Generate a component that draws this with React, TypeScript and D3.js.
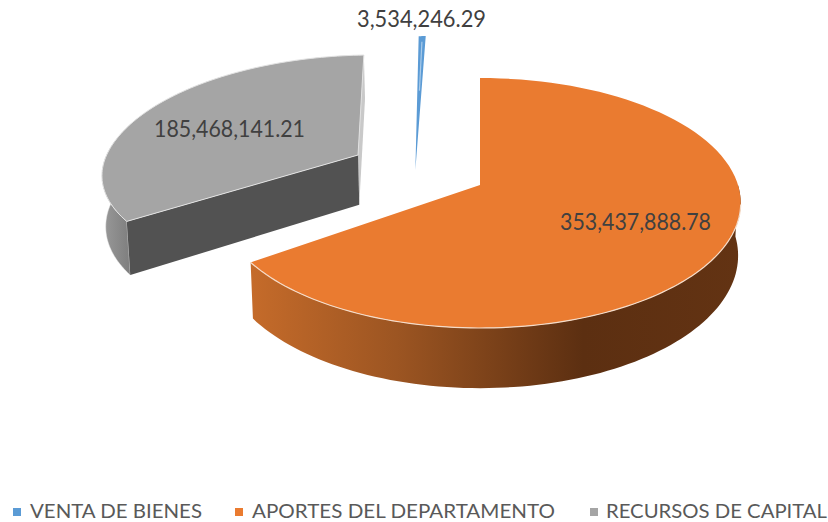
import React from "react";
import * as d3 from "d3";

const categories = ["VENTA DE BIENES", "APORTES DEL DEPARTAMENTO", "RECURSOS DE CAPITAL"];
const seriesValues = [3534246.29, 353437888.78, 185468141.21];
const valueLabels = ["3,534,246.29", "353,437,888.78", "185,468,141.21"];
const colors = ["#5b9bd5", "#ea7b30", "#a5a5a5"];

// Projection of the tilted pie
const CX = 480, CY = 185, RX = 258, RY = 122.4, K = 0.144, DEPTH = 51.5, SHRINK = 0.99;
const W = 828, H = 522;
const TAU = Math.PI * 2;

type Geo = { u: number; v: number; r: number; wide: number; front: number };
const geometry: Geo[] = [
  { u: -0.255, v: 0.125, r: 1.35, wide: 0.6, front: 1 },
  { u: 0, v: 0, r: 1, wide: 1, front: 1 },
  { u: -0.49, v: 0.254, r: 1, wide: 1.01, front: 0.93 },
];

const labelBoxes = [
  { x: 357, w: 129, y: 27 },
  { x: 560, w: 151, y: 230 },
  { x: 154, w: 151, y: 137 },
];
const legendBoxes = [
  { mx: 13, tx: 30, tw: 172 },
  { mx: 235, tx: 252, tw: 303 },
  { mx: 590, tx: 606, tw: 221 },
];

function project(geo: Geo, theta: number, radius: number, bottom = false): [number, number] {
  const c = Math.cos(theta);
  const U = geo.u + Math.sin(theta) * radius * geo.r * geo.wide;
  const V = geo.v + c * radius * geo.r * (c < 0 ? geo.front : 1);
  const s = 1 / (1 + K * V);
  const x = RX * U * s;
  const y = -RY * V * s;
  if (!bottom) return [CX + x, CY + y];
  return [CX + x * SHRINK, CY + y + DEPTH * s];
}

const lineGen = d3.line<[number, number]>().curve(d3.curveLinear);

function arcPts(geo: Geo, a0: number, a1: number, bottom = false) {
  const n = 90;
  return d3.range(n + 1).map((i) => project(geo, a0 + ((a1 - a0) * i) / n, 1, bottom));
}

export default function App() {
  const total = d3.sum(seriesValues);
  const start = (-TAU * seriesValues[0]) / total;
  const arcs = d3
    .pie<number>()
    .sort(null)
    .startAngle(start)
    .endAngle(start + TAU)(seriesValues);

  const [blue, orange, gray] = arcs;
  const topFace = (i: number) => {
    const a = arcs[i];
    const g = geometry[i];
    return lineGen([project(g, 0, 0), ...arcPts(g, a.startAngle, a.endAngle)]) + "Z";
  };
  const outerWall = (g: Geo, a0: number, a1: number) =>
    lineGen([...arcPts(g, a0, a1), ...arcPts(g, a0, a1, true).reverse()]) + "Z";
  const cutFace = (g: Geo, a: number) =>
    lineGen([project(g, a, 0), project(g, a, 1), project(g, a, 1, true), project(g, a, 0, true)]) + "Z";

  const gB = geometry[0];
  const gG = geometry[2];
  const gO = geometry[1];
  const blueMid = (blue.startAngle + blue.endAngle) / 2;

  return (
    <svg
      width={W}
      height={H}
      viewBox={`0 0 ${W} ${H}`}
      style={{ position: "absolute", left: 0, top: 0, display: "block", background: "#fff" }}
    >
      <defs>
        <linearGradient id="orangeWall" gradientUnits="userSpaceOnUse" x1={250} x2={740} y1={0} y2={0}>
          <stop offset="0" stopColor="#c56b2a" />
          <stop offset="0.3" stopColor="#9c5522" />
          <stop offset="0.68" stopColor="#5c2f11" />
          <stop offset="1" stopColor="#633313" />
        </linearGradient>
        <linearGradient id="grayWall" gradientUnits="userSpaceOnUse" x1={105} x2={132} y1={0} y2={0}>
          <stop offset="0" stopColor="#979797" />
          <stop offset="1" stopColor="#7c7c7c" />
        </linearGradient>
      </defs>

      {/* Recursos de capital */}
      <path d={cutFace(gG, gray.endAngle)} fill="#c9c9c9" />
      <path d={outerWall(gG, gray.startAngle, gray.startAngle + 0.75)} fill="url(#grayWall)" stroke="#e6e6e6" strokeWidth={0.5} />
      <path d={cutFace(gG, gray.startAngle)} fill="#525252" />
      <path d={topFace(2)} fill={colors[2]} stroke="#e2e2e2" strokeWidth={1} strokeLinejoin="round" />

      {/* Venta de bienes */}
      <path d={topFace(0)} fill={colors[0]} />
      <path
        d={lineGen([project(gB, blueMid, 0.55), project(gB, blueMid, 0.95)]) ?? ""}
        stroke="#a9cbea"
        strokeWidth={1.2}
        fill="none"
      />

      {/* Aportes del departamento */}
      <path d={outerWall(gO, Math.PI * 0.5, orange.endAngle)} fill="url(#orangeWall)" />
      <path d={topFace(1)} fill={colors[1]} />
      <path
        d={lineGen(arcPts(gO, Math.PI * 0.55, orange.endAngle)) ?? ""}
        fill="none"
        stroke="#f5dcc9"
        strokeWidth={1.2}
      />

      {valueLabels.map((t, i) => (
        <text
          key={t}
          x={labelBoxes[i].x}
          y={labelBoxes[i].y}
          textLength={labelBoxes[i].w}
          lengthAdjust="spacingAndGlyphs"
          fontFamily="Lato, 'Open Sans', sans-serif"
          fontSize={23}
          fill="#404040"
        >
          {t}
        </text>
      ))}

      {categories.map((c, i) => (
        <g key={c}>
          <rect x={legendBoxes[i].mx} y={508} width={8} height={8} fill={colors[i]} />
          <text
            x={legendBoxes[i].tx}
            y={518}
            textLength={legendBoxes[i].tw}
            lengthAdjust="spacingAndGlyphs"
            fontFamily="Lato, 'Open Sans', sans-serif"
            fontSize={20}
            fill="#595959"
          >
            {c}
          </text>
        </g>
      ))}
    </svg>
  );
}
